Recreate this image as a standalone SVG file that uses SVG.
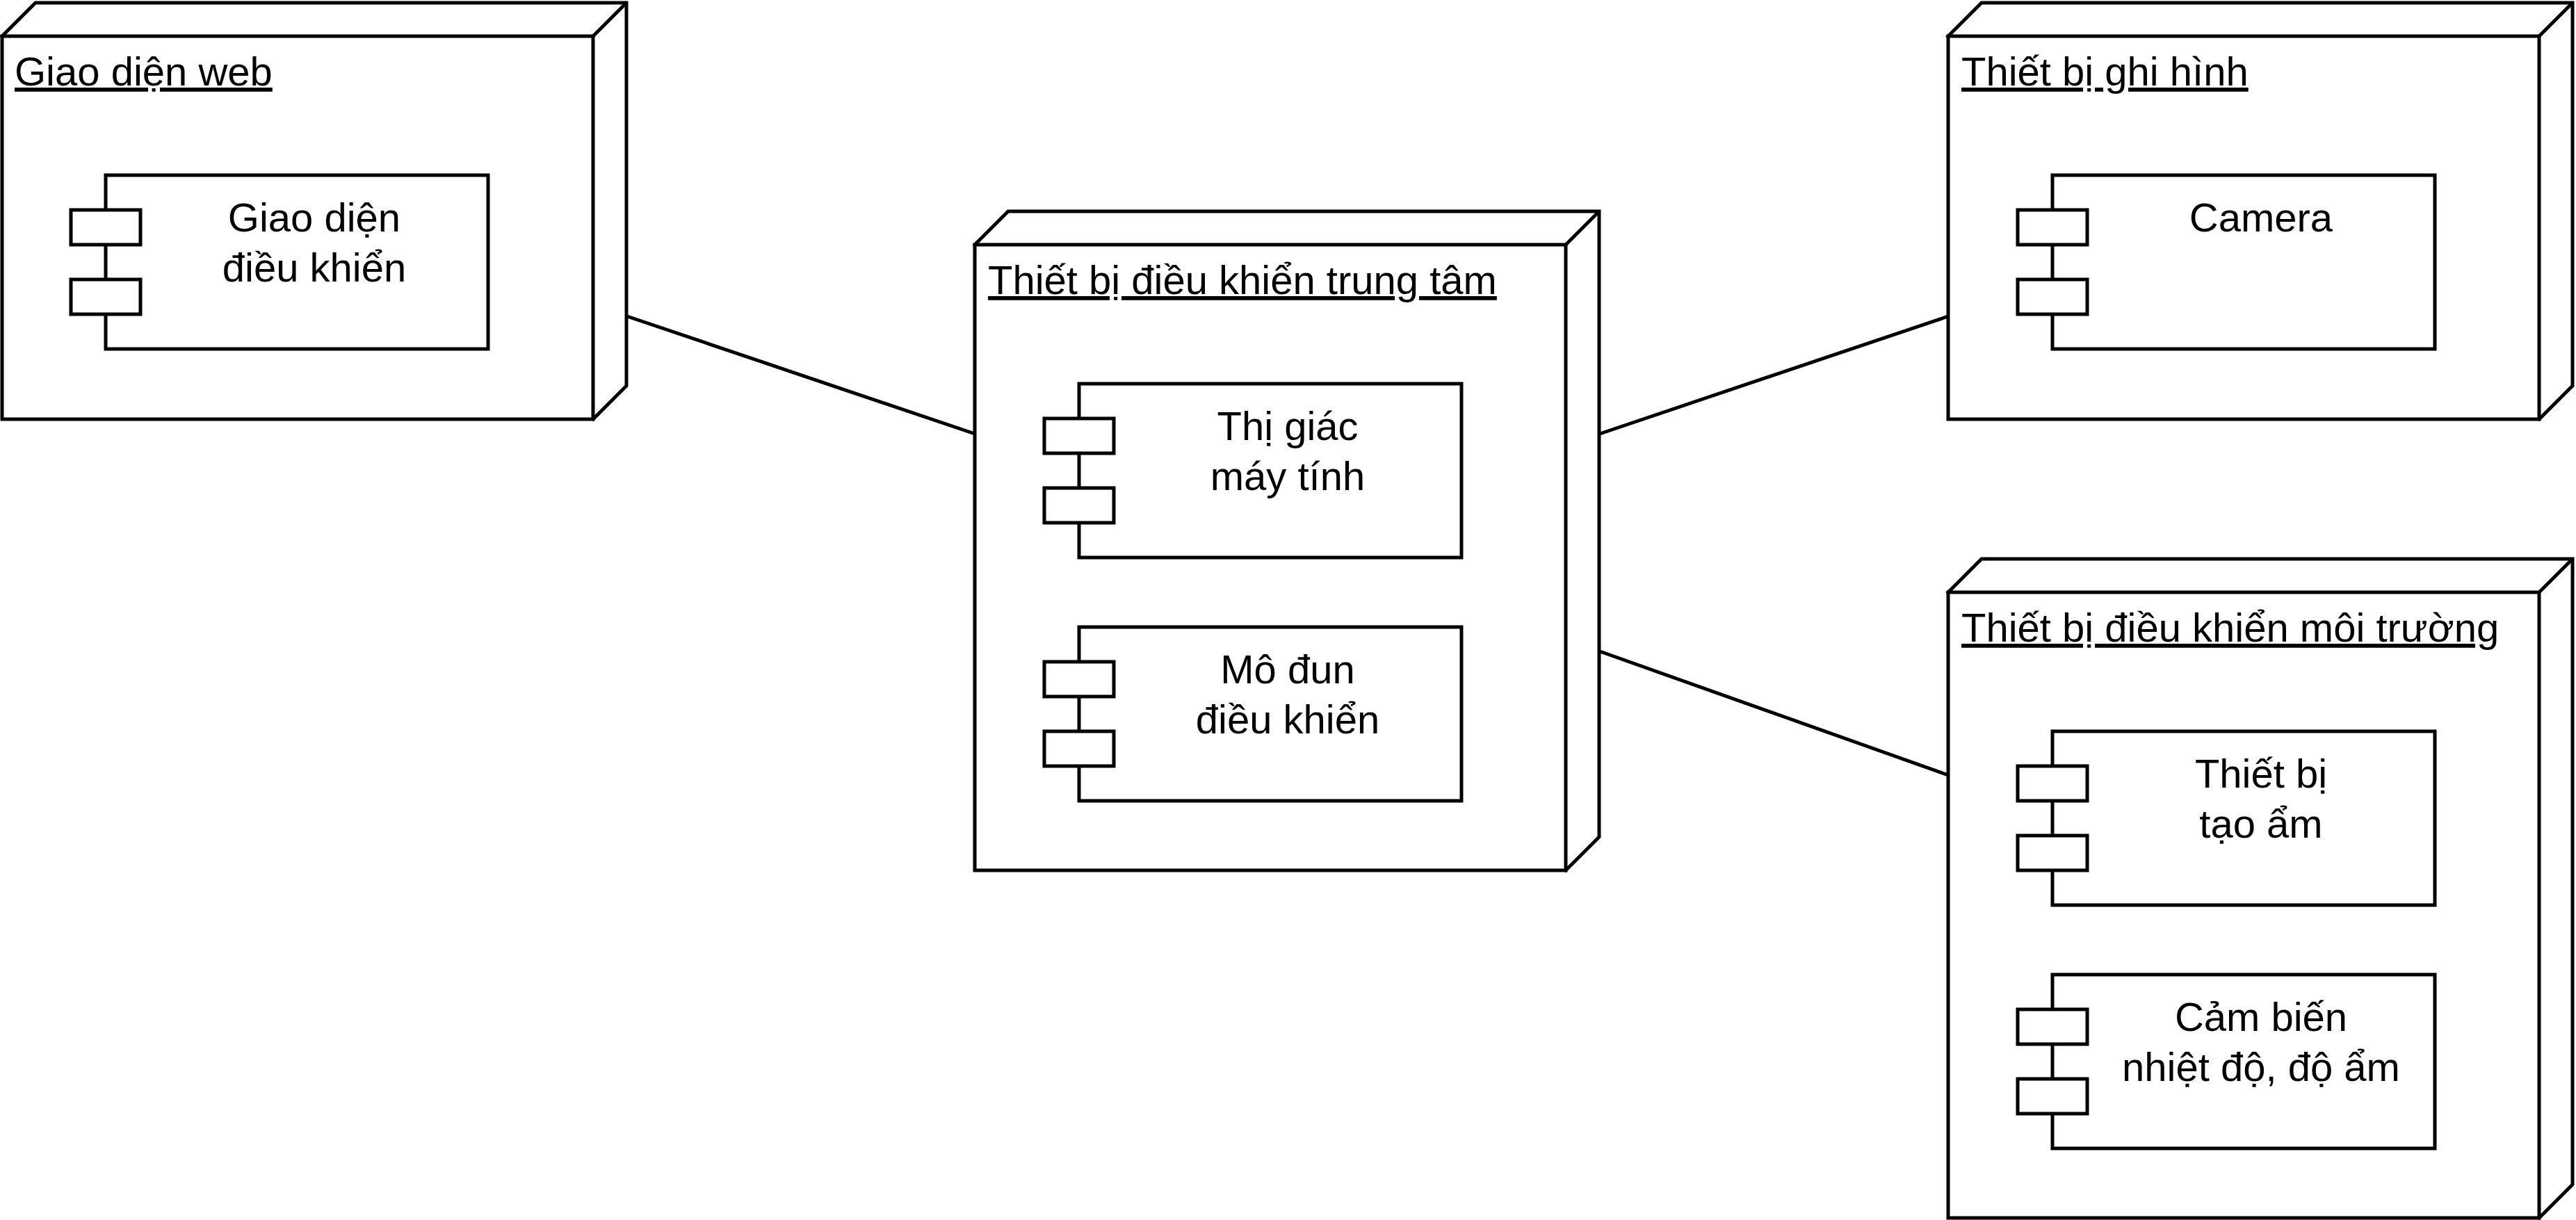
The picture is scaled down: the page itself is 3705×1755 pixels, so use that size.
<svg xmlns="http://www.w3.org/2000/svg" width="3705" height="1755" viewBox="0 0 3705 1755">
<style>
.s{fill:#fff;stroke:#000;stroke-width:5;stroke-linejoin:miter}
.ln{fill:none;stroke:#000;stroke-width:5}
.t{font-family:"Liberation Sans",Arial,Helvetica,sans-serif;font-size:58px;fill:#000}
.u{text-decoration:underline;text-decoration-thickness:5px;text-underline-offset:12px}
.c{text-anchor:middle}
</style>
<rect width="3705" height="1755" fill="#fff"/>
<g id="connectors">
<line class="ln" x1="902" y1="455" x2="1402" y2="624"/>
<line class="ln" x1="2301" y1="624" x2="2802" y2="455"/>
<line class="ln" x1="2301" y1="937" x2="2802" y2="1115"/>
</g>
<g id="node-web">
<path class="s" d="M3,52 L51,4 L901,4 L901,555 L853,603 Z"/>
<rect class="s" x="3" y="52" width="850" height="551"/>
<path class="ln" d="M853,52 L901,4"/>
<text class="t u" x="21" y="123">Giao diện web</text>
<g id="comp-web">
<rect class="s" x="152" y="252" width="550" height="250"/>
<rect class="s" x="102" y="302" width="100" height="50"/>
<rect class="s" x="102" y="402" width="100" height="50"/>
<text class="t c" x="452" y="333"><tspan x="452">Giao diện</tspan><tspan x="452" dy="72">điều khiển</tspan></text>
</g>
</g>
<g id="node-central">
<path class="s" d="M1402,352 L1450,304 L2300,304 L2300,1204 L2252,1252 Z"/>
<rect class="s" x="1402" y="352" width="850" height="900"/>
<path class="ln" d="M2252,352 L2300,304"/>
<text class="t u" x="1421" y="423">Thiết bị điều khiển trung tâm</text>
<g id="comp-vision">
<rect class="s" x="1552" y="552" width="550" height="250"/>
<rect class="s" x="1502" y="602" width="100" height="50"/>
<rect class="s" x="1502" y="702" width="100" height="50"/>
<text class="t c" x="1852" y="633"><tspan x="1852">Thị giác</tspan><tspan x="1852" dy="72">máy tính</tspan></text>
</g>
<g id="comp-control">
<rect class="s" x="1552" y="902" width="550" height="250"/>
<rect class="s" x="1502" y="952" width="100" height="50"/>
<rect class="s" x="1502" y="1052" width="100" height="50"/>
<text class="t c" x="1852" y="983"><tspan x="1852">Mô đun</tspan><tspan x="1852" dy="72">điều khiển</tspan></text>
</g>
</g>
<g id="node-camera-device">
<path class="s" d="M2802,52 L2850,4 L3700,4 L3700,555 L3652,603 Z"/>
<rect class="s" x="2802" y="52" width="850" height="551"/>
<path class="ln" d="M3652,52 L3700,4"/>
<text class="t u" x="2821" y="123">Thiết bị ghi hình</text>
<g id="comp-camera">
<rect class="s" x="2952" y="252" width="550" height="250"/>
<rect class="s" x="2902" y="302" width="100" height="50"/>
<rect class="s" x="2902" y="402" width="100" height="50"/>
<text class="t c" x="3252" y="333">Camera</text>
</g>
</g>
<g id="node-env">
<path class="s" d="M2802,852 L2850,804 L3700,804 L3700,1704 L3652,1752 Z"/>
<rect class="s" x="2802" y="852" width="850" height="900"/>
<path class="ln" d="M3652,852 L3700,804"/>
<text class="t u" x="2821" y="923">Thiết bị điều khiển môi trường</text>
<g id="comp-humidifier">
<rect class="s" x="2952" y="1052" width="550" height="250"/>
<rect class="s" x="2902" y="1102" width="100" height="50"/>
<rect class="s" x="2902" y="1202" width="100" height="50"/>
<text class="t c" x="3252" y="1133"><tspan x="3252">Thiết bị</tspan><tspan x="3252" dy="72">tạo ẩm</tspan></text>
</g>
<g id="comp-sensor">
<rect class="s" x="2952" y="1402" width="550" height="250"/>
<rect class="s" x="2902" y="1452" width="100" height="50"/>
<rect class="s" x="2902" y="1552" width="100" height="50"/>
<text class="t c" x="3252" y="1483"><tspan x="3252">Cảm biến</tspan><tspan x="3252" dy="72">nhiệt độ, độ ẩm</tspan></text>
</g>
</g>
</svg>
